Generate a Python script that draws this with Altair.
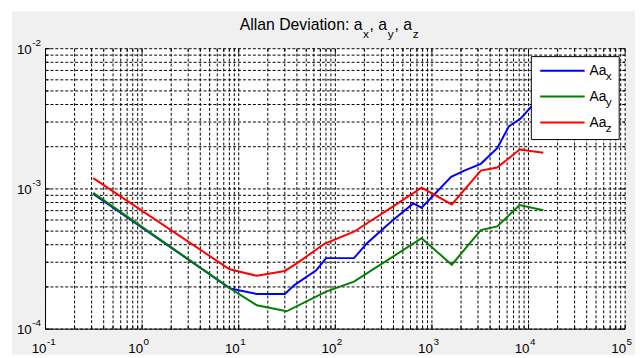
import altair as alt
import pandas as pd

# ---------------- data ----------------
series_names = ["Aax", "Aay", "Aaz"]
series_colors = ["#0000ff", "#008000", "#ff0000"]

tau_x = [0.312, 8.17, 15.4, 30.0, 37.7, 63.4, 80.1, 156, 214, 385, 641, 781,
         1582, 2164, 3207, 4744, 6250, 8225, 11070, 14230]
adev_x = [9.22e-4, 1.95e-4, 1.78e-4, 1.78e-4, 2.06e-4, 2.63e-4, 3.21e-4, 3.21e-4,
          4.12e-4, 5.91e-4, 7.88e-4, 7.35e-4, 1.22e-3, 1.35e-3, 1.51e-3, 1.95e-3,
          2.79e-3, 3.16e-3, 3.97e-3, 4.84e-3]

tau_y = [0.312, 8.17, 15.4, 31.3, 80.1, 156, 781, 1606, 3207, 4744, 8091, 14230]
adev_y = [9.37e-4, 1.95e-4, 1.48e-4, 1.34e-4, 1.85e-4, 2.18e-4, 4.45e-4, 2.88e-4,
          5.09e-4, 5.40e-4, 7.67e-4, 7.04e-4]

tau_z = [0.312, 8.04, 15.4, 30.0, 39.5, 77.0, 156, 356, 781, 1606, 3207, 4744, 8091, 14230]
adev_z = [1.195e-3, 2.67e-4, 2.40e-4, 2.60e-4, 2.93e-4, 4.06e-4, 4.95e-4, 7.15e-4,
          1.02e-3, 7.75e-4, 1.35e-3, 1.42e-3, 1.91e-3, 1.81e-3]

x_decades = [0.1, 1, 10, 100, 1000, 10000, 100000]
x_exponents = ["-1", "0", "1", "2", "3", "4", "5"]
y_decades = [1e-4, 1e-3, 1e-2]
y_exponents = ["-4", "-3", "-2"]

x_minor = [m * 10.0 ** k for k in range(-1, 5) for m in range(2, 10)]
y_minor = [m * 10.0 ** k for k in (-4, -3) for m in range(2, 10)]

legend_main = ["Aa", "Aa", "Aa"]
legend_sub = ["x", "y", "z"]

# ---------------- build ----------------
rows = []
for name, t, v in ((series_names[0], tau_x, adev_x),
                   (series_names[1], tau_y, adev_y),
                   (series_names[2], tau_z, adev_z)):
    for a, b in zip(t, v):
        rows.append({"series": name, "tau": a, "adev": b})
df = pd.DataFrame(rows)

W, H = 587, 284
FONT = "Liberation Sans"
one = pd.DataFrame({"k": [0]})

xs = alt.Scale(type="log", domain=[0.1, 1e5], nice=False)
ys = alt.Scale(type="log", domain=[1e-4, 1e-2], nice=False)

bg = alt.Chart(one).mark_rect(color="#f0f0f0").encode(
    x=alt.value(-34), x2=alt.value(W + 10), y=alt.value(-38), y2=alt.value(H + 26))
plotbg = alt.Chart(one).mark_rect(color="white").encode(
    x=alt.value(0), x2=alt.value(W), y=alt.value(0), y2=alt.value(H))

grid_x = pd.DataFrame({"v": x_decades + x_minor})
grid_y = pd.DataFrame({"v": y_decades + y_minor})
dash = [3, 2]
vgrid = alt.Chart(grid_x).mark_rule(color="black", strokeWidth=1, strokeDash=dash).encode(
    x=alt.X("v:Q", scale=xs, axis=None), y=alt.value(0), y2=alt.value(H))
hgrid = alt.Chart(grid_y).mark_rule(color="black", strokeWidth=1, strokeDash=dash).encode(
    y=alt.Y("v:Q", scale=ys, axis=None), x=alt.value(0), x2=alt.value(W))

# inward ticks
tick_layers = []
for vals, L in ((x_decades, 5), (x_minor, 3)):
    d = pd.DataFrame({"v": vals})
    tick_layers.append(alt.Chart(d).mark_rule(color="black", strokeWidth=1).encode(
        x=alt.X("v:Q", scale=xs, axis=None), y=alt.value(H), y2=alt.value(H - L)))
    tick_layers.append(alt.Chart(d).mark_rule(color="black", strokeWidth=1).encode(
        x=alt.X("v:Q", scale=xs, axis=None), y=alt.value(0), y2=alt.value(L)))
for vals, L in ((y_decades, 5), (y_minor, 3)):
    d = pd.DataFrame({"v": vals})
    tick_layers.append(alt.Chart(d).mark_rule(color="black", strokeWidth=1).encode(
        y=alt.Y("v:Q", scale=ys, axis=None), x=alt.value(0), x2=alt.value(L)))
    tick_layers.append(alt.Chart(d).mark_rule(color="black", strokeWidth=1).encode(
        y=alt.Y("v:Q", scale=ys, axis=None), x=alt.value(W), x2=alt.value(W - L)))

left_axis = alt.Chart(one).mark_rule(color="black", strokeWidth=1).encode(
    x=alt.value(0), y=alt.value(0), y2=alt.value(H))
bottom_axis = alt.Chart(one).mark_rule(color="black", strokeWidth=1).encode(
    y=alt.value(H), x=alt.value(0), x2=alt.value(W))

lines = alt.Chart(df).mark_line(strokeWidth=2).encode(
    x=alt.X("tau:Q", scale=xs, axis=None),
    y=alt.Y("adev:Q", scale=ys, axis=None),
    color=alt.Color("series:N", scale=alt.Scale(domain=series_names, range=series_colors), legend=None),
    order=alt.Order("tau:Q"),
)

# axis labels 10^k
xl = pd.DataFrame({"v": x_decades, "e": x_exponents})
x_ten = alt.Chart(xl).mark_text(text="10", font=FONT, fontSize=13.5, align="right",
                                baseline="alphabetic", dx=1).encode(
    x=alt.X("v:Q", scale=xs, axis=None), y=alt.value(H + 24))
x_exp = alt.Chart(xl).mark_text(font=FONT, fontSize=10, align="left",
                                baseline="alphabetic", dx=1.5).encode(
    x=alt.X("v:Q", scale=xs, axis=None), y=alt.value(H + 16.5), text="e:N")

yl = pd.DataFrame({"v": y_decades, "e": y_exponents})
y_ten = alt.Chart(yl).mark_text(text="10", font=FONT, fontSize=13.5, align="right",
                                baseline="middle", dy=1).encode(
    y=alt.Y("v:Q", scale=ys, axis=None), x=alt.value(-14))
y_exp = alt.Chart(yl).mark_text(font=FONT, fontSize=10, align="left",
                                baseline="middle", dy=-6).encode(
    y=alt.Y("v:Q", scale=ys, axis=None), x=alt.value(-13.5), text="e:N")

# title with subscripts
title_parts = [
    ("Allan Deviation: a", 321, -18.7, 16, "right"),
    ("x", 321.5, -11, 12, "left"),
    (", a", 328, -18.7, 16, "left"),
    ("y", 346.5, -11, 12, "left"),
    (", a", 353.5, -18.7, 16, "left"),
    ("z", 372, -11, 12, "left"),
]
title_layers = [
    alt.Chart(one).mark_text(text=t, font=FONT, fontSize=fs, align=al,
                             baseline="alphabetic", color="black").encode(
        x=alt.value(px), y=alt.value(py))
    for t, px, py, fs, al in title_parts
]

# legend box
leg_layers = [alt.Chart(one).mark_rect(fill="white", stroke="black", strokeWidth=1).encode(
    x=alt.value(492), x2=alt.value(581), y=alt.value(8), y2=alt.value(92))]
for i, (main, sub, col) in enumerate(zip(legend_main, legend_sub, series_colors)):
    ly = 22.3 + i * 26.2
    leg_layers.append(alt.Chart(one).mark_rule(color=col, strokeWidth=2).encode(
        x=alt.value(501), x2=alt.value(546), y=alt.value(ly)))
    leg_layers.append(alt.Chart(one).mark_text(text=main, font=FONT, fontSize=14, align="left",
                                               baseline="alphabetic").encode(
        x=alt.value(551), y=alt.value(ly + 4.5)))
    leg_layers.append(alt.Chart(one).mark_text(text=sub, font=FONT, fontSize=12, align="left",
                                               baseline="alphabetic").encode(
        x=alt.value(567.5), y=alt.value(ly + 9.5)))

chart = alt.layer(
    bg, plotbg, vgrid, hgrid, *tick_layers, left_axis, bottom_axis, lines,
    x_ten, x_exp, y_ten, y_exp, *title_layers, *leg_layers
).properties(
    width=W, height=H,
    autosize=alt.AutoSizeParams(type="none"),
    padding={"left": 38, "top": 39, "right": 10, "bottom": 27},
    background="white",
).configure_view(stroke=None)

chart.save("out.html", embed_options={"renderer": "svg", "actions": False})
